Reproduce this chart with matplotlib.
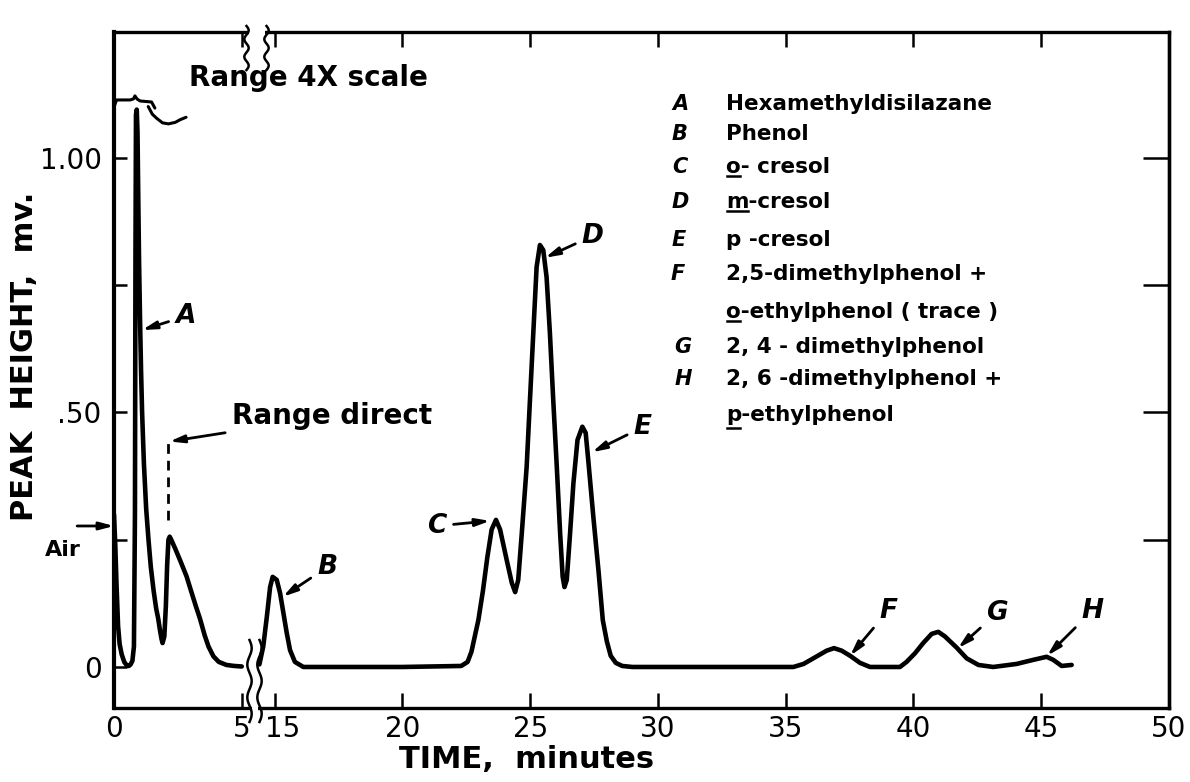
import numpy as np
import matplotlib
matplotlib.use("Agg")
import matplotlib.pyplot as plt
from matplotlib.patches import Rectangle
from matplotlib.transforms import ScaledTranslation

# ---------------- data (time in minutes, peak height in mV) ----------------
seg1_time = [0.00, 0.05, 0.10, 0.16, 0.22, 0.30, 0.40, 0.50, 0.58, 0.65, 0.72, 0.78,
             0.82, 0.84, 0.86, 0.89, 0.92, 0.95, 0.98, 1.02, 1.06, 1.10, 1.17, 1.26,
             1.35, 1.44, 1.55, 1.65, 1.73, 1.80, 1.86, 1.90, 1.97, 2.03, 2.08, 2.13,
             2.18, 2.24, 2.40, 2.60, 2.84, 3.00, 3.20, 3.37, 3.55, 3.70, 3.89, 4.10,
             4.40, 4.70, 5.00]
seg1_mv = [0.300, 0.240, 0.160, 0.080, 0.045, 0.025, 0.010, 0.003, 0.002, 0.005, 0.012, 0.040,
           0.300, 0.800, 1.085, 1.095, 1.050, 0.920, 0.800, 0.680, 0.580, 0.500, 0.400, 0.310,
           0.250, 0.197, 0.150, 0.115, 0.095, 0.072, 0.055, 0.047, 0.060, 0.120, 0.200, 0.250,
           0.256, 0.250, 0.232, 0.208, 0.178, 0.152, 0.120, 0.094, 0.062, 0.040, 0.021, 0.010,
           0.004, 0.002, 0.001]

seg2_time = [14.40, 14.55, 14.69, 14.82, 14.92, 15.08, 15.21, 15.34, 15.47, 15.60, 15.79, 16.12,
             18.00, 20.00, 22.30, 22.55, 22.70, 22.83, 22.97, 23.15, 23.32, 23.49, 23.66, 23.82,
             24.08, 24.28, 24.41, 24.53, 24.67, 24.86, 24.99, 25.12, 25.25, 25.38, 25.51, 25.64,
             25.77, 25.90, 26.04, 26.17, 26.27, 26.34, 26.43, 26.56, 26.69, 26.85, 27.04, 27.17,
             27.27, 27.47, 27.67, 27.84, 28.00, 28.15, 28.35, 28.60, 29.00, 32.00, 35.30, 35.70,
             36.08, 36.60, 36.89, 37.19, 37.52, 37.91, 38.30, 39.47, 39.73, 40.06, 40.38, 40.71,
             40.97, 41.23, 41.69, 42.08, 42.54, 43.12, 44.04, 44.69, 45.21, 45.47, 45.80, 46.19]
seg2_mv = [0.005, 0.040, 0.098, 0.157, 0.177, 0.171, 0.145, 0.106, 0.067, 0.033, 0.010, 0.000,
           0.000, 0.000, 0.002, 0.010, 0.030, 0.060, 0.092, 0.150, 0.215, 0.270, 0.289, 0.270,
           0.210, 0.165, 0.147, 0.171, 0.263, 0.393, 0.525, 0.656, 0.786, 0.829, 0.819, 0.766,
           0.656, 0.525, 0.393, 0.263, 0.177, 0.157, 0.171, 0.263, 0.361, 0.446, 0.472, 0.460,
           0.407, 0.295, 0.190, 0.092, 0.050, 0.022, 0.008, 0.002, 0.000, 0.000, 0.000, 0.006,
           0.017, 0.032, 0.037, 0.032, 0.022, 0.008, 0.000, 0.000, 0.010, 0.027, 0.047, 0.065,
           0.069, 0.060, 0.038, 0.017, 0.004, 0.000, 0.006, 0.014, 0.020, 0.014, 0.002, 0.004]

x_ticks = [0, 5, 15, 20, 25, 30, 35, 40, 45, 50]
x_tick_labels = ["0", "5", "15", "20", "25", "30", "35", "40", "45", "50"]
y_ticks = [0, 0.25, 0.50, 0.75, 1.00]
y_tick_labels = ["0", "", ".50", "", "1.00"]
right_y_ticks = [0.25, 0.50, 0.75, 1.00]

peak_letters = ["A", "B", "C", "D", "E", "F", "G", "H"]
peak_tip_time = [1.10, 15.32, 23.43, 25.58, 27.42, 37.52, 41.74, 45.23]
peak_tip_mv = [0.662, 0.138, 0.287, 0.804, 0.422, 0.022, 0.037, 0.022]
peak_text_time = [2.80, 17.05, 21.35, 27.45, 29.40, 39.00, 43.27, 46.99]
peak_text_mv = [0.695, 0.202, 0.283, 0.853, 0.477, 0.116, 0.112, 0.116]

legend_keys = ["A", "B", "C", "D", "E", "F", "", "G", "H", ""]
legend_names = ["Hexamethyldisilazane", "Phenol", "o- cresol", "m-cresol", "p -cresol",
                "2,5-dimethylphenol +", "o-ethylphenol ( trace )", "2, 4 - dimethylphenol",
                "2, 6 -dimethylphenol +", "p-ethylphenol"]
legend_underline_first = [False, False, True, True, False, False, True, False, False, True]
legend_row_px = [102, 132, 165, 200, 238, 272, 310, 345, 377, 413]
legend_key_px = [680, 680, 680, 680, 679, 678, 680, 683, 683, 683]

air_mv = 0.277
range_switch_time = 2.12
range_dash_mv = [0.289, 0.446]

# ---------------- broken time axis (5 -> 15 compressed) ----------------
OFF = 8.71
T1 = 14.0
U1 = T1 - OFF


def fwd(t):
    t = np.asarray(t, dtype=float)
    return np.where(t <= 5, t, np.where(t >= T1, t - OFF, 5 + (t - 5) * (U1 - 5) / (T1 - 5)))


def inv(u):
    u = np.asarray(u, dtype=float)
    return np.where(u <= 5, u, np.where(u >= U1, u + OFF, 5 + (u - 5) * (T1 - 5) / (U1 - 5)))


W, H = 1190, 782
fig = plt.figure(figsize=(W / 100, H / 100), dpi=100)
AX_L, AX_R, AX_T, AX_B = 114, 1169, 32, 708
ax = fig.add_axes([AX_L / W, 1 - AX_B / H, (AX_R - AX_L) / W, (AX_B - AX_T) / H])
ax.set_xscale("function", functions=(fwd, inv))
ax.set_xlim(0, 50)
ax.set_ylim(-0.0806, 1.2475)

for s in ax.spines.values():
    s.set_linewidth(2.4)
ax.spines["left"].set_linewidth(3.0)

ax.set_xticks(x_ticks)
ax.set_xticklabels(x_tick_labels)
ax.set_yticks(y_ticks)
ax.set_yticklabels(y_tick_labels)
ax.tick_params(axis="x", which="both", direction="in", length=11, width=1.8, top=True,
               labelsize=20, pad=5)
ax.tick_params(axis="y", which="both", direction="in", length=9, width=1.8, right=False,
               labelsize=20, pad=9)
for lab in ax.get_xticklabels():
    if lab.get_text() == "15":
        lab.set_transform(lab.get_transform() + ScaledTranslation(8 / 100, 0, fig.dpi_scale_trans))

sec = ax.secondary_yaxis("right")
sec.set_yticks(right_y_ticks)
sec.set_yticklabels([""] * len(right_y_ticks))
sec.tick_params(direction="in", length=19, width=1.8)
sec.spines["right"].set_linewidth(2.4)

# ---------------- chromatogram ----------------
lkw = dict(color="black", lw=3.3, solid_capstyle="round", solid_joinstyle="round", zorder=3)
ax.plot(seg1_time, seg1_mv, **lkw)
ax.plot(seg2_time, seg2_mv, **lkw)

# range change marker
ax.plot([range_switch_time] * 2, range_dash_mv, color="black", lw=2.0, ls=(0, (3.5, 2.5)))

arrow = dict(arrowstyle="-|>,head_length=0.6,head_width=0.16", color="black", lw=2.0,
             shrinkA=3, shrinkB=0, mutation_scale=14)

for lt, tt, tm, xt, xm in zip(peak_letters, peak_tip_time, peak_tip_mv, peak_text_time, peak_text_mv):
    ax.annotate(lt, xy=(tt, tm), xytext=(xt, xm), fontsize=19, fontstyle="italic",
                fontweight="bold", ha="center", va="center_baseline", arrowprops=arrow)

ax.annotate("Range direct", xy=(range_switch_time + 0.05, range_dash_mv[1] - 0.003),
            xytext=(4.62, 0.499), fontsize=20, fontweight="bold", ha="left",
            va="center_baseline", arrowprops=arrow)
ax.text(2.95, 1.163, "Range 4X scale", fontsize=20, fontweight="bold", ha="left",
        va="center_baseline")

# brace over peak A and its tail to the text
brace_t = [0.0, 0.10, 0.63, 0.76, 0.82, 0.90, 1.02, 1.47, 1.60]
brace_mv = [1.100, 1.114, 1.114, 1.116, 1.122, 1.116, 1.112, 1.110, 1.098]
tail_t = [1.34, 1.50, 1.67, 1.90, 2.13, 2.40, 2.58, 2.82]
tail_mv = [1.101, 1.086, 1.078, 1.069, 1.067, 1.070, 1.075, 1.080]
ax.plot(brace_t, brace_mv, color="black", lw=2.2, clip_on=False, solid_capstyle="round")
ax.plot(tail_t, tail_mv, color="black", lw=2.2, clip_on=False, solid_capstyle="round")

# Air marker
ax.annotate("", xy=(0, air_mv), xytext=(-41, 0), textcoords="offset pixels",
            arrowprops=arrow, annotation_clip=False)
fig.text(63 / W, 1 - 548 / H, "Air", fontsize=16, fontweight="bold", ha="center",
         va="center_baseline")

# ---------------- axis break marks ----------------
def px_to_axes(px, py):
    return (np.asarray(px) - AX_L) / (AX_R - AX_L), (AX_B - np.asarray(py)) / (AX_B - AX_T)


def wiggle(px, py0, py1):
    yy = np.linspace(py0, py1, 40)
    xx = px + 2.2 * np.sin((yy - py0) / (py1 - py0) * 2 * np.pi * 2.5)
    return px_to_axes(xx, yy)


for (x0, x1, y0, y1) in [(251.5, 257.5, 640, 722), (248.5, 264.5, 22, 44)]:
    ax0, ay1 = px_to_axes(x0, y0)
    ax1, ay0 = px_to_axes(x1, y1)
    ax.add_patch(Rectangle((ax0, ay0), ax1 - ax0, ay1 - ay0, transform=ax.transAxes,
                           facecolor="white", edgecolor="none", zorder=6, clip_on=False))
for (px, y0, y1) in [(249.5, 640, 722), (259.5, 640, 722), (246.5, 26, 70), (266.5, 26, 70)]:
    wx, wy = wiggle(px, y0, y1)
    ax.plot(wx, wy, transform=ax.transAxes, color="black", lw=1.8, zorder=7, clip_on=False)

# ---------------- key ----------------
for key, name, ul, ry, kx in zip(legend_keys, legend_names, legend_underline_first,
                                 legend_row_px, legend_key_px):
    if key:
        fig.text(kx / W, 1 - ry / H, key, fontsize=15, fontstyle="italic", fontweight="bold",
                 ha="center", va="center_baseline")
    fig.text(726 / W, 1 - ry / H, name, fontsize=15.5, fontweight="bold", ha="left",
             va="center_baseline")
    if ul:
        renderer = fig.canvas.get_renderer()
        tmp = fig.text(726 / W, 1 - ry / H, name[0], fontsize=15.5, fontweight="bold",
                       ha="left", va="center_baseline")
        bb = tmp.get_window_extent(renderer)
        tmp.remove()
        yline = bb.y0 - (3 if name[0] == "p" else -1)
        inv_t = fig.transFigure.inverted()
        (fx0, fy), (fx1, _) = inv_t.transform([(bb.x0 + 1, yline), (bb.x1 - 1, yline)])
        fig.add_artist(plt.Line2D([fx0, fx1], [fy, fy], color="black", lw=1.8))

# ---------------- axis titles ----------------
fig.text(25 / W, 1 - 356 / H, "PEAK  HEIGHT,  mv.", rotation=90, fontsize=22,
         fontweight="bold", ha="center", va="center")
fig.text(527 / W, 1 - 760 / H, "TIME,  minutes", fontsize=22, fontweight="bold",
         ha="center", va="center")

fig.savefig("out.png", dpi=100, facecolor="white")
